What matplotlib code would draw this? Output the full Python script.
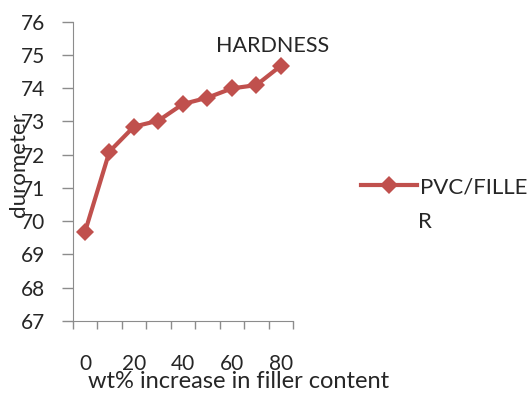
import numpy as np
import matplotlib.pyplot as plt
from matplotlib.ticker import MultipleLocator

# Hardness of PVC/filler vs filler content
filler_wt = [0, 10, 20, 30, 40, 50, 60, 70, 80]
hardness = [69.67, 72.09, 72.84, 73.02, 73.52, 73.71, 73.99, 74.09, 74.67]
tick_labels = ['0', '20', '40', '60', '80']

plt.rcParams['font.family'] = ['Lato', 'DejaVu Sans']
text_color = '#262626'
axis_color = '#8c8c8c'
red = '#C0504D'

fig = plt.figure(figsize=(5.28, 4), dpi=100)
ax = fig.add_axes([0.1377, 0.198, 0.4173, 0.748])

pos = np.arange(len(filler_wt))
ax.plot(pos, hardness, color=red, lw=3, marker='D', markersize=9,
        markeredgewidth=0, label='PVC/FILLE')

ax.set_xlim(-0.5, len(filler_wt) - 0.5)
ax.set_ylim(67, 76)
ax.yaxis.set_major_locator(MultipleLocator(1))

# category axis: tick marks on boundaries, labels every other category
ax.set_xticks(np.arange(-0.5, len(filler_wt), 1), minor=True)
ax.set_xticks(pos[::2])
ax.set_xticklabels(tick_labels)
ax.tick_params(axis='x', which='minor', length=6, color=axis_color, width=1)
ax.tick_params(axis='x', which='major', length=0, pad=24, labelsize=15,
               labelcolor=text_color)
ax.tick_params(axis='y', length=8, color=axis_color, width=1, pad=12,
               labelsize=15, labelcolor=text_color)

for s in ['top', 'right']:
    ax.spines[s].set_visible(False)
for s in ['left', 'bottom']:
    ax.spines[s].set_color(axis_color)

fig.text(0.516, 0.885, 'HARDNESS', fontsize=15.5, color=text_color,
         ha='center', va='center')
fig.text(0.451, 0.045, 'wt% increase in filler content', fontsize=17,
         color=text_color, ha='center', va='center')
fig.text(0.036, 0.5875, 'durometer', fontsize=16, color=text_color,
         rotation=90, ha='center', va='center')

leg = fig.legend(loc='center left', bbox_to_anchor=(0.684, 0.532),
                 frameon=False, fontsize=16, handlelength=2.5,
                 handletextpad=0.15, borderpad=0, borderaxespad=0)
for t in leg.get_texts():
    t.set_color(text_color)
fig.text(0.792, 0.445, 'R', fontsize=16, color=text_color,
         ha='left', va='center')

fig.savefig('out.png', dpi=100)
